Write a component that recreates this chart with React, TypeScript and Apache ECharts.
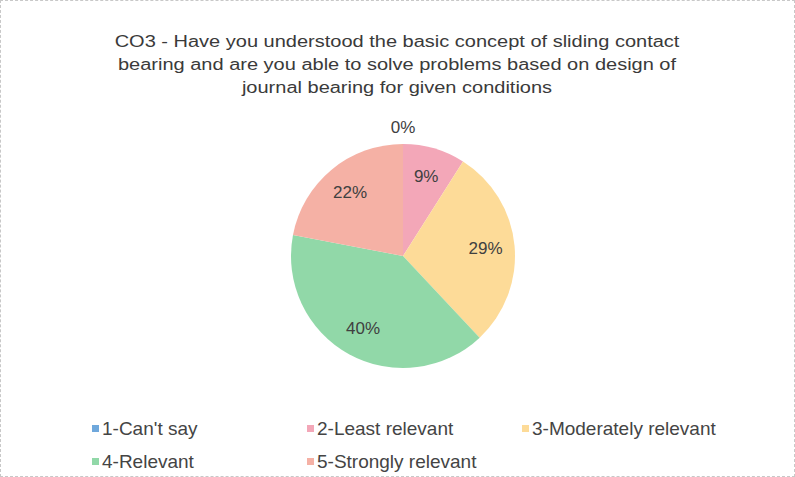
import React, { useEffect, useRef } from "react";
import * as echarts from "echarts";

const titleText =
  "CO3 - Have you understood the basic concept of sliding contact\nbearing and are you able to solve problems based on design of\njournal bearing for given conditions";
const categories = ["1-Can't say", "2-Least relevant", "3-Moderately relevant", "4-Relevant", "5-Strongly relevant"];
const values = [0, 9, 29, 40, 22];
const colors = ["#6fa8dc", "#f3a7b8", "#fddb98", "#91d8a8", "#f5b1a5"];

export default function App() {
  const ref = useRef<HTMLDivElement>(null);
  useEffect(() => {
    if (!ref.current) return;
    const chart = echarts.init(ref.current, undefined, { renderer: "svg" });
    const font = "'Liberation Sans', Arial, sans-serif";
    const data = categories.map((name, i) => ({
      name,
      value: values[i],
      itemStyle: { color: colors[i] },
    }));
    const labelData = categories.map((name, i) => ({
      name,
      value: values[i],
      label: values[i] === 0 ? { offset: [0, -46] } : undefined,
    }));
    chart.setOption({
      animation: false,
      backgroundColor: "#ffffff",
      graphic: [
        {
          type: "text",
          x: 396,
          y: 29,
          scaleX: 1.25,
          silent: true,
          style: {
            text: titleText,
            fontFamily: font,
            fontSize: 16,
            lineHeight: 23,
            fill: "#3a3a3a",
            textAlign: "center",
            textVerticalAlign: "top",
          },
        },
      ],
      legend: {
        left: 86,
        top: 406,
        width: 680,
        itemWidth: 7,
        itemHeight: 7,
        itemGap: 0,
        icon: "rect",
        data: categories,
        textStyle: {
          fontFamily: font,
          fontSize: 19,
          color: "#444444",
          width: 205,
          lineHeight: 33,
          padding: [0, 0, 0, -2],
        },
      },
      series: [
        {
          type: "pie",
          center: [402, 255],
          radius: [0, 112],
          startAngle: 90,
          clockwise: true,
          silent: true,
          label: { show: false },
          labelLine: { show: false },
          itemStyle: { borderWidth: 0 },
          data,
        },
        {
          type: "pie",
          center: [402, 255],
          radius: [48, 112],
          startAngle: 90,
          clockwise: true,
          silent: true,
          legendHoverLink: false,
          itemStyle: { color: "rgba(0,0,0,0)", borderWidth: 0 },
          label: {
            show: true,
            position: "inside",
            formatter: "{c}%",
            fontFamily: font,
            fontSize: 17,
            color: "#404040",
          },
          labelLine: { show: false },
          data: labelData,
        },
      ],
    });
    return () => chart.dispose();
  }, []);
  return (
    <div
      ref={ref}
      style={{
        position: "fixed",
        left: 0,
        top: 0,
        width: 795,
        height: 477,
        boxSizing: "border-box",
        border: "1px dashed #c8c8c8",
      }}
    />
  );
}
